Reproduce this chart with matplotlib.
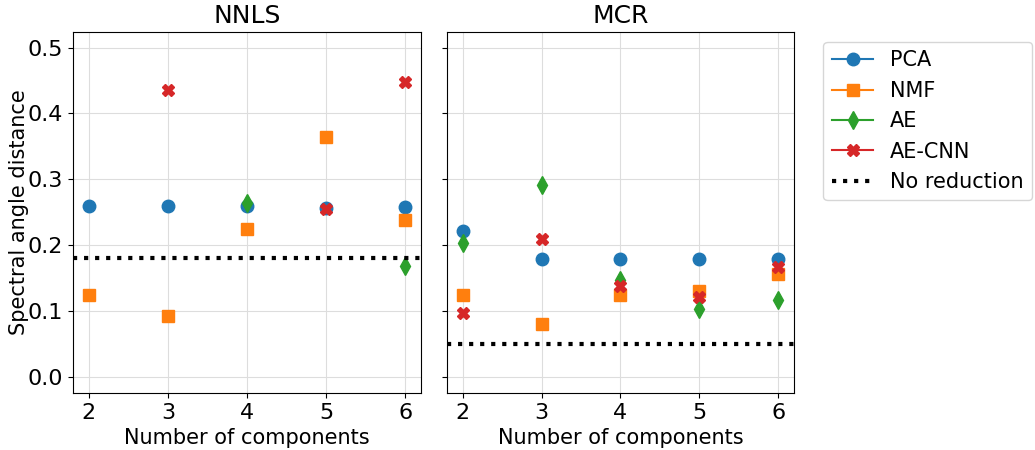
import matplotlib.pyplot as plt
import numpy as np
from matplotlib.lines import Line2D

components = [2, 3, 4, 5, 6]
methods = ["PCA", "NMF", "AE", "AE-CNN"]
markers = ["o", "s", "d", "X"]
colors = ["tab:blue", "tab:orange", "tab:green", "tab:red"]

nan = np.nan
nnls = {
    "PCA": [0.259, 0.259, 0.259, 0.257, 0.258],
    "NMF": [0.125, 0.093, 0.225, 0.365, 0.238],
    "AE": [nan, nan, 0.264, nan, 0.168],
    "AE-CNN": [nan, 0.436, nan, 0.255, 0.448],
}
mcr = {
    "PCA": [0.222, 0.179, 0.179, 0.179, 0.179],
    "NMF": [0.125, 0.080, 0.125, 0.130, 0.157],
    "AE": [0.203, 0.292, 0.148, 0.104, 0.117],
    "AE-CNN": [0.097, 0.210, 0.139, 0.121, 0.167],
}
no_reduction = {"NNLS": 0.180, "MCR": 0.050}

plt.rcParams["font.size"] = 15
plt.rcParams["xtick.labelsize"] = 16
plt.rcParams["ytick.labelsize"] = 16

fig = plt.figure(figsize=(10.35, 4.5), dpi=100)
ax1 = fig.add_axes([0.0705, 0.1267, 0.3363, 0.8029])
ax2 = fig.add_axes([0.4319, 0.1267, 0.3351, 0.8029], sharey=ax1)

for ax, name, data in [(ax1, "NNLS", nnls), (ax2, "MCR", mcr)]:
    ax.grid(True, color="#dddddd", linewidth=0.8)
    ax.set_axisbelow(True)
    for m, mk, c in zip(methods, markers, colors):
        ax.plot(components, data[m], linestyle="none", marker=mk, color=c,
                markersize=9)
    ax.axhline(no_reduction[name], color="black", linestyle=":", linewidth=3)
    ax.set_title(name, fontsize=18)
    ax.set_xlabel("Number of components")
    ax.set_xlim(1.8, 6.2)
    ax.set_xticks(components)

ax1.set_ylim(-0.024, 0.524)
ax1.set_yticks([0.0, 0.1, 0.2, 0.3, 0.4, 0.5])
ax1.set_ylabel("Spectral angle distance", labelpad=-1)
ax2.tick_params(labelleft=False)

handles = [Line2D([0], [0], marker=mk, color=c, markersize=9)
           for mk, c in zip(markers, colors)]
handles.append(Line2D([0], [0], color="black", linestyle=":", linewidth=3))
ax2.legend(handles, methods + ["No reduction"], loc="upper left",
           bbox_to_anchor=(1.055, 1.0), fontsize=15)

fig.savefig("out.png", dpi=100)
